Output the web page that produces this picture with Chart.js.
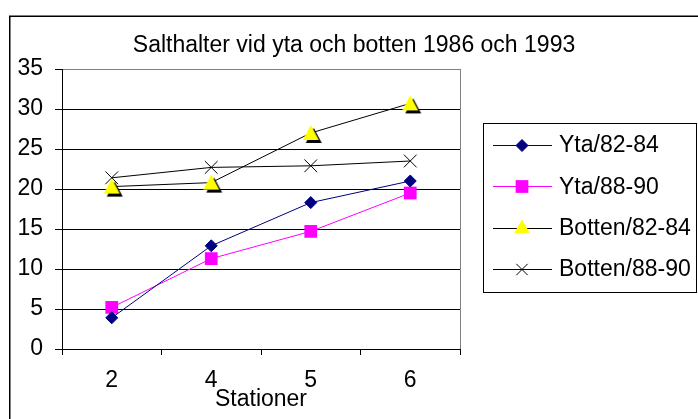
<!DOCTYPE html>
<html>
<head>
<meta charset="utf-8">
<script src="https://cdn.jsdelivr.net/npm/chart.js@4"></script>
<style>
  html, body { margin: 0; padding: 0; background: #fff; }
  canvas { display: block; }
</style>
</head>
<body>
<canvas id="chart" width="698" height="419"></canvas>
<script>
// Data
const STATIONS = ['2', '4', '5', '6'];
const YTA_82_84 = [3.9, 12.9, 18.3, 21.0];
const YTA_88_90 = [5.2, 11.3, 14.7, 19.5];
const BOTTEN_82_84 = [20.3, 20.8, 27.0, 30.7];
const BOTTEN_88_90 = [21.4, 22.7, 22.9, 23.5];
const Y_TICKS = [0, 5, 10, 15, 20, 25, 30, 35];
const SERIES_NAMES = ['Yta/82-84', 'Yta/88-90', 'Botten/82-84', 'Botten/88-90'];
const TITLE = 'Salthalter vid yta och botten 1986 och 1993';
const X_TITLE = 'Stationer';

const FONT = "'Liberation Sans', Arial, sans-serif";
const FONT_SIZE = 23;

// yellow triangle with the black drop shadow Excel put under it
function shadowTriangle() {
  const c = document.createElement('canvas');
  c.width = 30;
  c.height = 30;
  const g = c.getContext('2d');
  const tri = (cx, cy, color) => {
    g.beginPath();
    g.moveTo(cx, cy - 8);
    g.lineTo(cx + 8, cy + 7);
    g.lineTo(cx - 8, cy + 7);
    g.closePath();
    g.fillStyle = color;
    g.fill();
  };
  tri(18, 18, '#000');
  tri(15, 15, '#ffff00');
  return c;
}

// marker styles used in the legend box
const LEGEND_MARKERS = [
  { pointStyle: 'rectRot', radius: 6, fill: '#000080', stroke: '#000080', borderWidth: 1 },
  { pointStyle: 'rect', radius: 9, fill: '#ff00ff', stroke: '#ff00ff', borderWidth: 0 },
  { pointStyle: 'triangle', radius: 9, fill: '#ffff00', stroke: '#ffff00', borderWidth: 0 },
  { pointStyle: 'crossRot', radius: 8, fill: '#000', stroke: '#000', borderWidth: 1 },
];

const frame = {
  id: 'frame',
  beforeDraw(chart) {
    const ctx = chart.ctx;
    ctx.save();
    ctx.fillStyle = '#fff';
    ctx.fillRect(0, 0, chart.width, chart.height);
    ctx.strokeStyle = '#000';
    ctx.lineWidth = 1.5;
    ctx.strokeRect(9.75, 16.25, 800, 800);
    ctx.restore();
  },
  beforeDatasetsDraw(chart) {
    const { ctx, chartArea } = chart;
    ctx.save();
    ctx.strokeStyle = '#808080';
    ctx.lineWidth = 1;
    ctx.beginPath();
    ctx.moveTo(chartArea.right + 0.5, chartArea.top);
    ctx.lineTo(chartArea.right + 0.5, chartArea.bottom);
    ctx.stroke();
    ctx.restore();
  },
  afterDraw(chart) {
    const ctx = chart.ctx;
    ctx.save();
    ctx.fillStyle = '#000';
    ctx.font = `${FONT_SIZE}px ${FONT}`;
    ctx.textAlign = 'center';
    ctx.textBaseline = 'middle';
    ctx.fillText(TITLE, 354, 46);

    // legend box
    ctx.strokeStyle = '#000';
    ctx.lineWidth = 1;
    ctx.strokeRect(483.5, 123.5, 213, 169);
    ctx.textAlign = 'left';
    chart.data.datasets.forEach((ds, i) => {
      const y = 145 + i * 41.3;
      ctx.strokeStyle = ds.borderColor;
      ctx.lineWidth = 1;
      ctx.beginPath();
      ctx.moveTo(493, Math.round(y) + 0.5);
      ctx.lineTo(552, Math.round(y) + 0.5);
      ctx.stroke();
      const m = LEGEND_MARKERS[i];
      ctx.fillStyle = m.fill;
      ctx.strokeStyle = m.stroke;
      ctx.lineWidth = m.borderWidth || 1;
      Chart.helpers.drawPoint(ctx, { pointStyle: m.pointStyle, radius: m.radius, rotation: 0, borderWidth: m.borderWidth }, 522, Math.round(y) + 0.5);
      ctx.fillStyle = '#000';
      ctx.fillText(ds.label, 559, y + 1);
    });
    ctx.restore();
  },
};

new Chart(document.getElementById('chart'), {
  type: 'line',
  data: {
    labels: STATIONS,
    datasets: [
      {
        label: SERIES_NAMES[0], data: YTA_82_84,
        borderColor: '#000080', borderWidth: 1,
        pointStyle: 'rectRot', pointRadius: 6,
        pointBackgroundColor: '#000080', pointBorderColor: '#000080', pointBorderWidth: 1,
      },
      {
        label: SERIES_NAMES[1], data: YTA_88_90,
        borderColor: '#ff00ff', borderWidth: 1,
        pointStyle: 'rect', pointRadius: 9,
        pointBackgroundColor: '#ff00ff', pointBorderColor: '#ff00ff', pointBorderWidth: 0,
      },
      {
        label: SERIES_NAMES[2], data: BOTTEN_82_84,
        borderColor: '#000', borderWidth: 1,
        pointStyle: shadowTriangle(), pointRadius: 9,
      },
      {
        label: SERIES_NAMES[3], data: BOTTEN_88_90,
        borderColor: '#000', borderWidth: 1,
        pointStyle: 'crossRot', pointRadius: 9,
        pointBorderColor: '#000', pointBorderWidth: 1,
      },
    ],
  },
  options: {
    responsive: false,
    animation: false,
    layout: { padding: { left: 0, top: 69, right: 238, bottom: 6 } },
    plugins: {
      legend: { display: false },
      title: { display: false },
      tooltip: { enabled: false },
    },
    elements: { line: { tension: 0 } },
    scales: {
      x: {
        offset: true,
        grid: { drawOnChartArea: false, offset: true, tickLength: 6, tickColor: '#000' },
        border: { color: '#000', width: 1 },
        ticks: { color: '#000', padding: 12, font: { family: FONT, size: FONT_SIZE }, maxRotation: 0 },
        title: {
          display: true, text: X_TITLE, color: '#000',
          padding: { top: 0, bottom: 0 },
          font: { family: FONT, size: FONT_SIZE },
        },
        afterFit(scale) { scale.height = 64; },
      },
      y: {
        min: Y_TICKS[0],
        max: Y_TICKS[Y_TICKS.length - 1],
        grid: {
          color: (c) => (c.tick && c.tick.value === Y_TICKS[Y_TICKS.length - 1] ? '#808080' : '#000'),
          tickLength: 7,
          tickColor: '#000',
        },
        border: { color: '#000', width: 1 },
        ticks: {
          stepSize: Y_TICKS[1] - Y_TICKS[0],
          color: '#000',
          padding: 12,
          font: { family: FONT, size: FONT_SIZE },
        },
        afterFit(scale) { scale.width = 62; },
      },
    },
  },
  plugins: [frame],
});
</script>
</body>
</html>
